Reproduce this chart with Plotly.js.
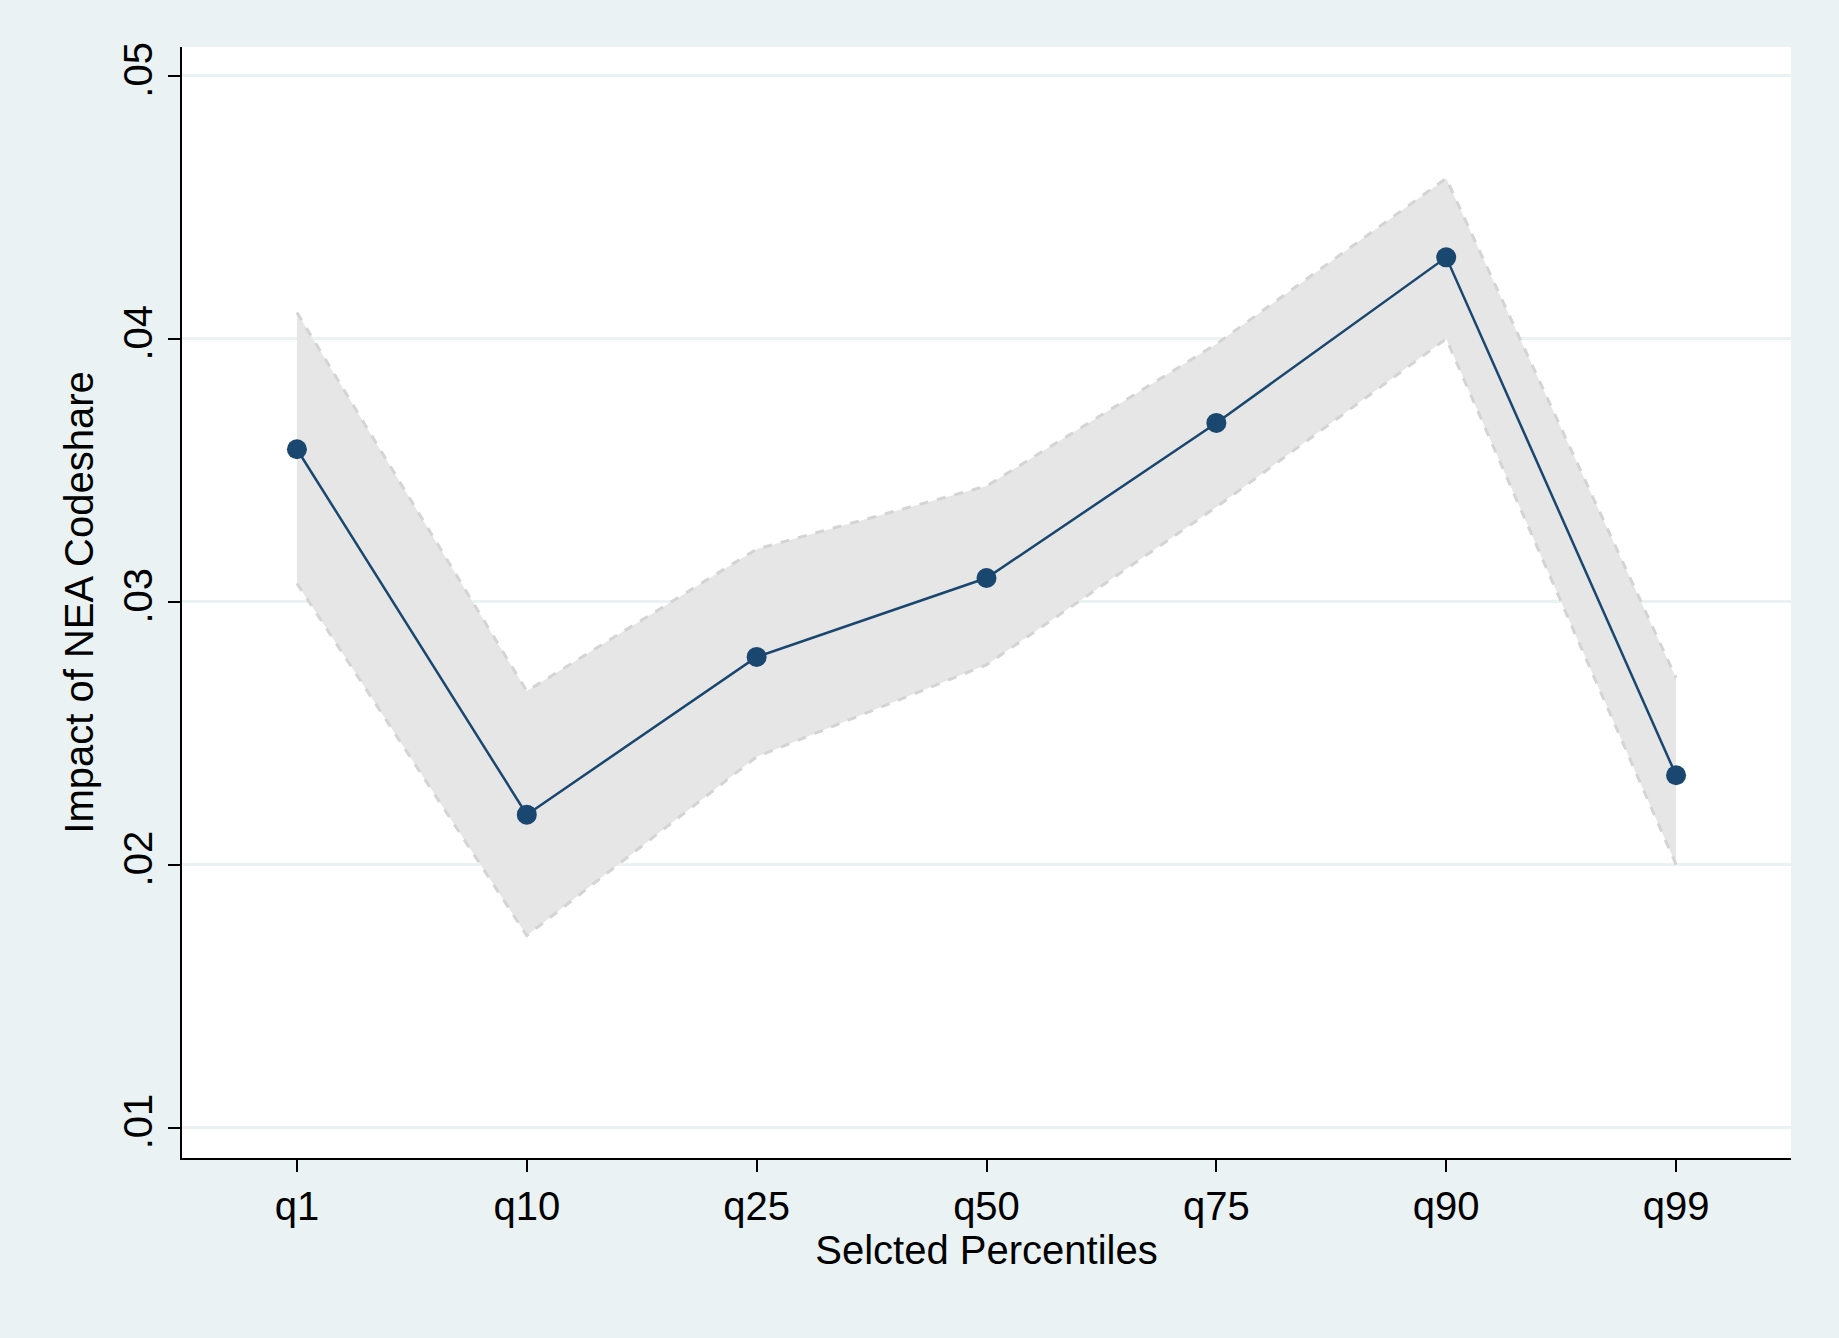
<!DOCTYPE html>
<html>
<head>
<meta charset="utf-8">
<script src="https://cdn.plot.ly/plotly-3.0.1.min.js"></script>
<style>html,body{margin:0;padding:0;background:#eaf2f3;}</style>
</head>
<body>
<div id="chart" style="width:1839px;height:1338px;"></div>
<script>
var categories = ['q1', 'q10', 'q25', 'q50', 'q75', 'q90', 'q99'];
var estimate = [0.0358, 0.0219, 0.0279, 0.0309, 0.0368, 0.0431, 0.0234];
var upperCI = [0.0410, 0.0266, 0.0320, 0.0344, 0.0398, 0.0461, 0.0271];
var lowerCI = [0.0307, 0.0173, 0.0241, 0.0276, 0.0336, 0.0400, 0.0200];
var yTicks = [0.01, 0.02, 0.03, 0.04, 0.05];
var yTickText = ['.01', '.02', '.03', '.04', '.05'];

var bandLine = { color: '#d4d4d4', width: 3, dash: 'dash' };
var data = [
  { x: categories, y: lowerCI, type: 'scatter', mode: 'lines', line: bandLine, hoverinfo: 'skip' },
  { x: categories, y: upperCI, type: 'scatter', mode: 'lines', line: bandLine,
    fill: 'tonexty', fillcolor: '#e6e6e6', hoverinfo: 'skip' },
  { x: categories, y: estimate, type: 'scatter', mode: 'lines+markers',
    line: { color: '#1a476f', width: 2.5 },
    marker: { color: '#1a476f', size: 20 } }
];

var layout = {
  width: 1839, height: 1338,
  paper_bgcolor: '#eaf2f3',
  plot_bgcolor: '#fff',
  showlegend: false,
  margin: { l: 182, r: 48, t: 47, b: 180 },
  font: { family: 'Arial, Liberation Sans, sans-serif', color: '#000', size: 40 },
  xaxis: {
    type: 'category', range: [-0.5, 6.5],
    showgrid: false, zeroline: false,
    showline: true, linecolor: '#000', linewidth: 2,
    ticks: 'outside', ticklen: 12, tickwidth: 2, tickcolor: '#000',
    tickfont: { size: 40 },
    title: { text: 'Selcted Percentiles', font: { size: 40 }, standoff: 0 }
  },
  yaxis: {
    range: [0.00884, 0.0511],
    tickvals: yTicks, ticktext: yTickText, tickangle: -90,
    gridcolor: '#eaf2f3', gridwidth: 3, zeroline: false,
    showline: true, linecolor: '#000', linewidth: 2,
    ticks: 'outside', ticklen: 12, tickwidth: 2, tickcolor: '#000',
    tickfont: { size: 40 },
    title: { text: 'Impact of NEA Codeshare', font: { size: 40 }, standoff: 10 }
  }
};

Plotly.newPlot('chart', data, layout, { displayModeBar: false });
</script>
</body>
</html>
